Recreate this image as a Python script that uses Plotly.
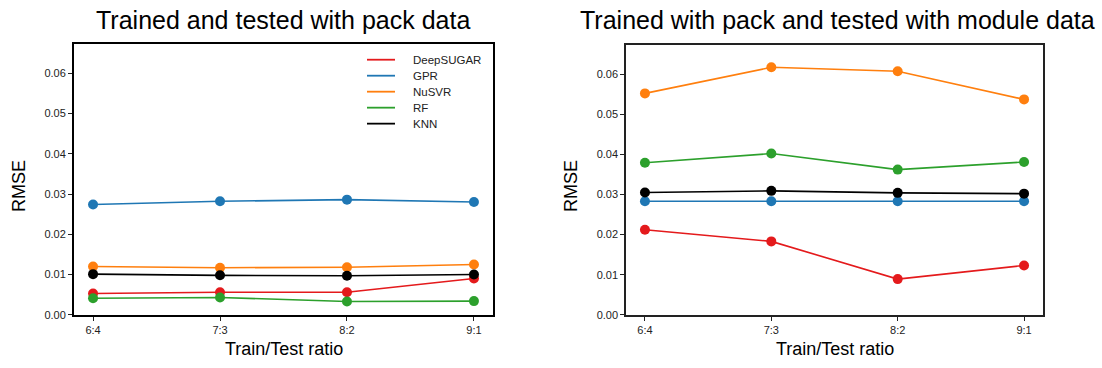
import plotly.graph_objects as go

ratios = ["6:4", "7:3", "8:2", "9:1"]
models = ["DeepSUGAR", "GPR", "NuSVR", "RF", "KNN"]
colors = {"DeepSUGAR": "#e41a1c", "GPR": "#1f77b4", "NuSVR": "#ff7f0e", "RF": "#2ca02c", "KNN": "#000000"}

pack_deepsugar = [0.0053, 0.0056, 0.0056, 0.0090]
pack_gpr = [0.0274, 0.0282, 0.0286, 0.0280]
pack_nusvr = [0.0120, 0.0117, 0.0118, 0.0125]
pack_rf = [0.0041, 0.0043, 0.0033, 0.0034]
pack_knn = [0.0101, 0.0098, 0.0097, 0.0100]

module_deepsugar = [0.0212, 0.0183, 0.0089, 0.0123]
module_gpr = [0.0283, 0.0283, 0.0283, 0.0283]
module_nusvr = [0.0552, 0.0617, 0.0607, 0.0537]
module_rf = [0.0379, 0.0402, 0.0362, 0.0381]
module_knn = [0.0305, 0.0309, 0.0304, 0.0302]

pack = dict(zip(models, [pack_deepsugar, pack_gpr, pack_nusvr, pack_rf, pack_knn]))
module = dict(zip(models, [module_deepsugar, module_gpr, module_nusvr, module_rf, module_knn]))

FONT = "Liberation Sans, Arial, sans-serif"
W, H = 1102, 368
xi = list(range(len(ratios)))

fig = go.Figure()
for data, xa, ya in [(pack, "x", "y"), (module, "x2", "y2")]:
    for m in models:
        fig.add_trace(go.Scatter(x=xi, y=data[m], mode="lines+markers", xaxis=xa, yaxis=ya,
                                 line=dict(color=colors[m], width=1.6),
                                 marker=dict(color=colors[m], size=10),
                                 showlegend=False, name=m))


def px_x(p):
    return p / W


def px_y(p):
    return 1 - p / H


def axis_common(lw, lc):
    return dict(showline=True, linecolor=lc, linewidth=lw, mirror=True,
                ticks="outside", ticklen=4, tickcolor="#222", tickwidth=1, showgrid=False, zeroline=False,
                tickfont=dict(family=FONT, size=11, color="#222"))


yticks = [0, 0.01, 0.02, 0.03, 0.04, 0.05, 0.06]

annotations = [
    dict(text="Trained and tested with pack data", x=px_x(283), y=px_y(20), xref="paper", yref="paper",
         showarrow=False, font=dict(family=FONT, size=25, color="black"), xanchor="center", yanchor="middle"),
    dict(text="Trained with pack and tested with module data", x=px_x(837), y=px_y(20), xref="paper", yref="paper",
         showarrow=False, font=dict(family=FONT, size=25, color="black"), xanchor="center", yanchor="middle"),
    dict(text="RMSE", x=px_x(19), y=px_y(189), xref="paper", yref="paper", textangle=-90,
         showarrow=False, font=dict(family=FONT, size=18, color="black"), xanchor="center", yanchor="middle"),
    dict(text="RMSE", x=px_x(571), y=px_y(189), xref="paper", yref="paper", textangle=-90,
         showarrow=False, font=dict(family=FONT, size=18, color="black"), xanchor="center", yanchor="middle"),
    dict(text="Train/Test ratio", x=px_x(284), y=px_y(355), xref="paper", yref="paper",
         showarrow=False, font=dict(family=FONT, size=18, color="black"), xanchor="center", yanchor="middle"),
    dict(text="Train/Test ratio", x=px_x(835), y=px_y(355), xref="paper", yref="paper",
         showarrow=False, font=dict(family=FONT, size=18, color="black"), xanchor="center", yanchor="middle"),
]

# Legend (lines only, compact rows as in the reference)
shapes = []
leg_top, leg_step = 60.7, 16.25
for i, m in enumerate(models):
    yy = px_y(leg_top + i * leg_step)
    shapes.append(dict(type="line", xref="paper", yref="paper", x0=px_x(367), x1=px_x(395), y0=yy, y1=yy,
                       line=dict(color=colors[m], width=1.8)))
    annotations.append(dict(text=m, x=px_x(411), y=yy, xref="paper", yref="paper", showarrow=False,
                            xanchor="left", yanchor="middle", font=dict(family=FONT, size=11.5, color="#222")))

fig.update_layout(
    width=W, height=H, margin=dict(l=0, r=0, t=0, b=0),
    paper_bgcolor="white", plot_bgcolor="white", showlegend=False,
    xaxis=dict(domain=[px_x(74), px_x(493)], range=[-0.15, 3.15], tickvals=xi, ticktext=ratios, anchor="y",
               **axis_common(2, "black")),
    yaxis=dict(domain=[px_y(320), px_y(45)], range=[0, 0.0672], tickvals=yticks,
               tickformat=".2f", anchor="x", **axis_common(2, "black")),
    xaxis2=dict(domain=[px_x(626), px_x(1043)], range=[-0.15, 3.15], tickvals=xi, ticktext=ratios, anchor="y2",
                **axis_common(1.5, "#222")),
    yaxis2=dict(domain=[px_y(320), px_y(46)], range=[0, 0.0672], tickvals=yticks,
                tickformat=".2f", anchor="x2", **axis_common(1.5, "#222")),
    annotations=annotations,
    shapes=shapes,
)

fig.write_html("out.html")
